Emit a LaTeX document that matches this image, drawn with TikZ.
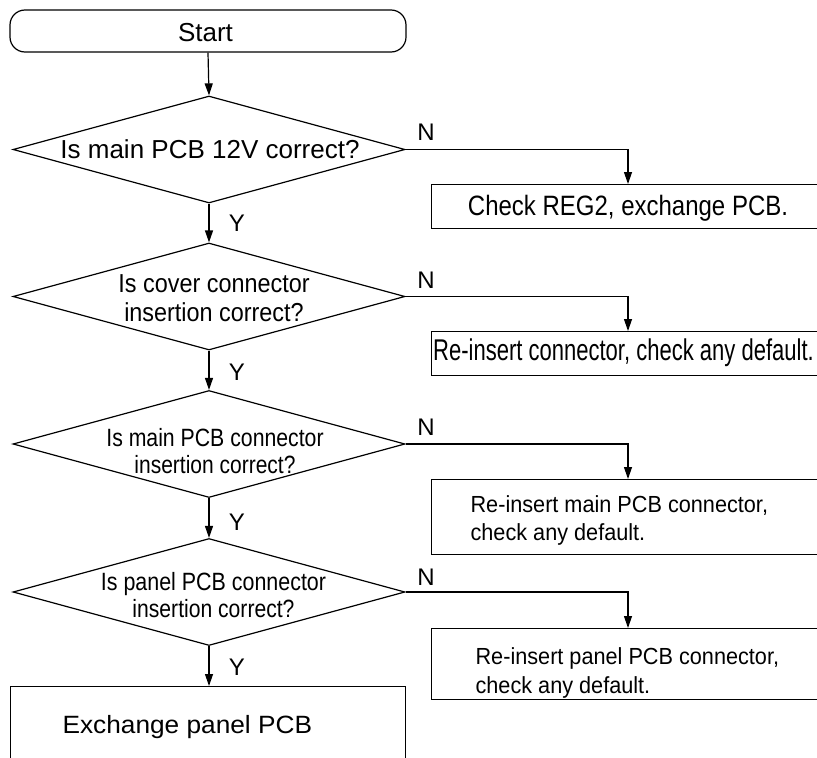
\documentclass[tikz,border=0pt]{standalone}
\usepackage{fontspec}
\usepackage{graphicx}
\setmainfont{Liberation Sans}
\usetikzlibrary{shapes.geometric,arrows.meta}
\newcommand{\hsc}[2]{\scalebox{#1}[1]{#2}}
\newcommand{\fs}[2]{\fontsize{#1}{#2}\selectfont}
\begin{document}
\begin{tikzpicture}[x=1pt,y=-1pt,
  line width=1.2pt,
  every node/.style={inner sep=0pt},
  arr/.style={-{Triangle[length=12pt,width=8pt]}},
  dia/.style={draw,diamond,aspect=3.66,minimum width=392pt,minimum height=107pt},
  boxr/.style={draw,rectangle,anchor=north west},
  yn/.style={font=\fs{24}{28}}]
\useasboundingbox (0,0) rectangle (817,758);
\clip (0,0) rectangle (817,758);
% start
\node[draw,rectangle,rounded corners=15pt,minimum width=396pt,minimum height=42pt] (start) at (208,31) {};
\node[anchor=base,font=\fs{26}{30}] (starttxt) at (205.5,41) {Start};
% diamonds
\node[dia] (d1) at (209,149.5) {};
\node[anchor=base,font=\fs{26}{30}] (d1t) at (210,158) {Is main PCB 12V correct?};
\node[dia] (d2) at (209,296.5) {};
\node[anchor=north,align=center,font=\fs{26}{29}] (d2t) at (214,274)
  {\hsc{0.9}{Is cover connector}\\\hsc{0.9}{insertion correct?}};
\node[dia] (d3) at (209,444) {};
\node[anchor=north,align=center,font=\fs{25}{27}] (d3t) at (215,428)
  {\hsc{0.85}{Is main PCB connector}\\\hsc{0.84}{insertion correct?}};
\node[dia] (d4) at (209,592) {};
\node[anchor=north,align=center,font=\fs{25}{27}] (d4t) at (213.5,572)
  {\hsc{0.857}{Is panel PCB connector}\\\hsc{0.845}{insertion correct?}};
% final box
\node[boxr,minimum width=395pt,minimum height=130pt] (ex) at (10,686) {};
\node[anchor=base west,font=\fs{25}{30}] (ext) at (62,733) {\hsc{1.05}{Exchange panel PCB}};
% right boxes
\node[boxr,minimum width=420pt,minimum height=44pt] (b1) at (431,184) {};
\node[anchor=base,font=\fs{28}{32}] (b1t) at (628,215) {\hsc{0.857}{Check REG2, exchange PCB.}};
\node[boxr,minimum width=420pt,minimum height=44pt] (b2) at (431,331) {};
\node[anchor=base,font=\fs{30}{34}] (b2t) at (623.5,360) {\hsc{0.734}{Re-insert connector, check any default.}};
\node[boxr,minimum width=420pt,minimum height=75pt] (b3) at (431,479) {};
\node[anchor=north west,align=left,font=\fs{23.3}{28}] (b3t) at (470,495)
  {\hsc{0.93}{Re-insert main PCB connector,}\\\hsc{0.93}{check any default.}};
\node[boxr,minimum width=420pt,minimum height=71pt] (b4) at (431,628) {};
\node[anchor=north west,align=left,font=\fs{23.3}{29}] (b4t) at (475,647)
  {\hsc{0.93}{Re-insert panel PCB connector,}\\\hsc{0.93}{check any default.}};
% vertical flow
\draw[arr] (start.south) -- (d1.north);
\draw[arr] (d1.south) -- (d2.north);
\draw[arr] (d2.south) -- (d3.north);
\draw[arr] (d3.south) -- (d4.north);
\draw[arr] (d4.south) -- (ex.north -| d4.south);
% N branches
\draw[arr] (d1.east) -| (b1.north -| 628,0);
\draw[arr] (d2.east) -| (b2.north -| 628,0);
\draw[arr] (d3.east) -| (b3.north -| 628,0);
\draw[arr] (d4.east) -| (b4.north -| 628,0);
% labels
\node[yn] (y1) at (237,223) {Y};
\node[yn] (y2) at (237,372) {Y};
\node[yn] (y3) at (237,522) {Y};
\node[yn] (y4) at (237,667) {Y};
\node[yn] (n1) at (426,132) {N};
\node[yn] (n2) at (426,280) {N};
\node[yn] (n3) at (426,427) {N};
\node[yn] (n4) at (426,577) {N};
\end{tikzpicture}
\end{document}
